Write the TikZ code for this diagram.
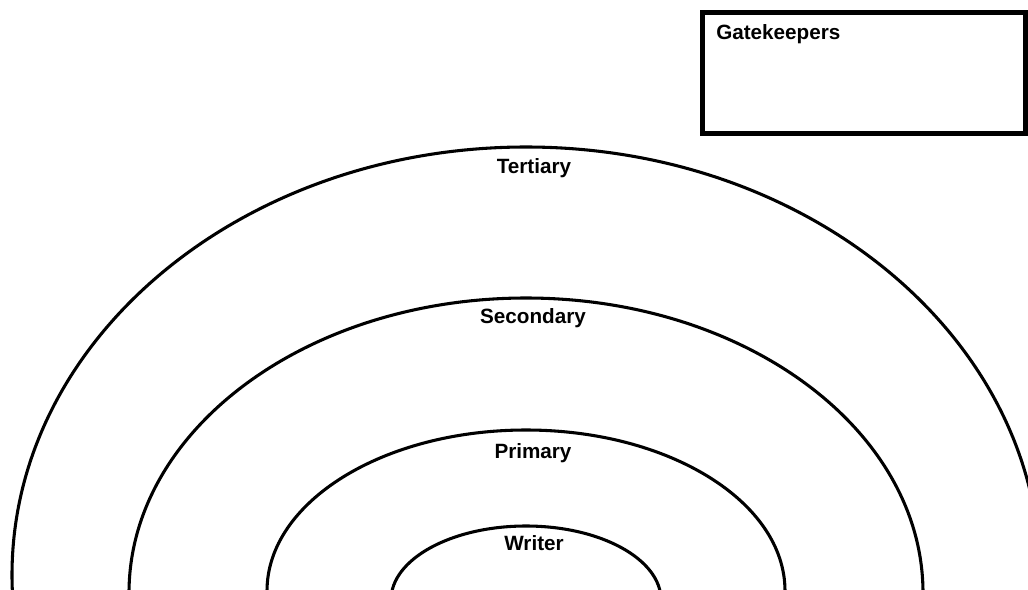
\documentclass[tikz,border=0pt]{standalone}
\usepackage{fontspec}
\setmainfont{Liberation Sans}
\begin{document}
\begin{tikzpicture}[x=0.75pt,y=-0.75pt,
  ring/.style={draw=black,line width=2.3pt},
  ringlabel/.style={anchor=base,inner sep=0pt,font=\fontsize{15.5pt}{18pt}\selectfont\bfseries},
  gkbox/.style={draw=black,line width=3.8pt,minimum width=242.25pt,minimum height=91.1pt,inner sep=0pt}]
\useasboundingbox (0,0) rectangle (1028,589);
\clip (0,0) rectangle (1028,589);
\fill[white] (0,0) rectangle (1028,589);
% rings
\draw[ring] (526,575) ellipse [x radius=385.5pt, y radius=321pt];
\draw[ring] (526,593) ellipse [x radius=297.75pt, y radius=221.25pt];
\draw[ring] (526,591) ellipse [x radius=194.25pt, y radius=120.75pt];
\draw[ring] (526,600) ellipse [x radius=101.25pt, y radius=55.5pt];
% labels
\node[ringlabel] (tertiary) at (534,173) {Tertiary};
\node[ringlabel] (secondary) at (533,323) {Secondary};
\node[ringlabel] (primary) at (533,458) {Primary};
\node[ringlabel] (writer) at (534,550) {Writer};
% gatekeepers box
\node[gkbox] (gk) at (864,73) {};
\node[ringlabel,anchor=base west] (gklabel) at (716,39) {Gatekeepers};
\end{tikzpicture}
\end{document}
